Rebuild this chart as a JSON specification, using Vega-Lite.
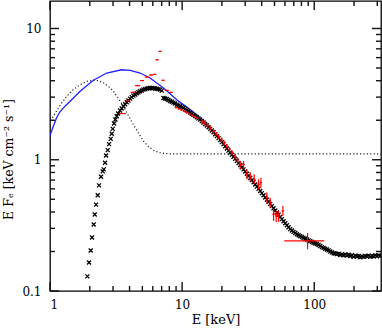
{
  "$schema": "https://vega.github.io/schema/vega-lite/v6.json",
  "width": 331,
  "height": 290,
  "autosize": {"type": "none"},
  "padding": {"left": 50, "top": 1, "right": 1, "bottom": 39},
  "config": {
    "view": {"stroke": "black", "strokeWidth": 1.3},
    "axis": {
      "domain": false, "grid": false, "ticks": false,
      "labelFont": "DejaVu Serif", "labelFontSize": 12, "labelColor": "black",
      "titleFont": "DejaVu Serif", "titleFontSize": 13, "titleFontWeight": "normal", "titleColor": "black"
    }
  },
  "datasets": {
    "xtb": [
      {"v":1,"a":0.1,"b":0.1171},{"v":2,"a":0.1,"b":0.1092},{"v":3,"a":0.1,"b":0.1092},{"v":4,"a":0.1,"b":0.1092},{"v":5,"a":0.1,"b":0.1092},{"v":6,"a":0.1,"b":0.1092},{"v":7,"a":0.1,"b":0.1092},{"v":8,"a":0.1,"b":0.1092},{"v":9,"a":0.1,"b":0.1092},
      {"v":10,"a":0.1,"b":0.1171},{"v":20,"a":0.1,"b":0.1092},{"v":30,"a":0.1,"b":0.1092},{"v":40,"a":0.1,"b":0.1092},{"v":50,"a":0.1,"b":0.1092},{"v":60,"a":0.1,"b":0.1092},{"v":70,"a":0.1,"b":0.1092},{"v":80,"a":0.1,"b":0.1092},{"v":90,"a":0.1,"b":0.1092},
      {"v":100,"a":0.1,"b":0.1171},{"v":200,"a":0.1,"b":0.1092},{"v":300,"a":0.1,"b":0.1092}
    ],
    "xtt": [
      {"v":1,"a":16.2,"b":13.83},{"v":2,"a":16.2,"b":14.84},{"v":3,"a":16.2,"b":14.84},{"v":4,"a":16.2,"b":14.84},{"v":5,"a":16.2,"b":14.84},{"v":6,"a":16.2,"b":14.84},{"v":7,"a":16.2,"b":14.84},{"v":8,"a":16.2,"b":14.84},{"v":9,"a":16.2,"b":14.84},
      {"v":10,"a":16.2,"b":13.83},{"v":20,"a":16.2,"b":14.84},{"v":30,"a":16.2,"b":14.84},{"v":40,"a":16.2,"b":14.84},{"v":50,"a":16.2,"b":14.84},{"v":60,"a":16.2,"b":14.84},{"v":70,"a":16.2,"b":14.84},{"v":80,"a":16.2,"b":14.84},{"v":90,"a":16.2,"b":14.84},
      {"v":100,"a":16.2,"b":13.83},{"v":200,"a":16.2,"b":14.84},{"v":300,"a":16.2,"b":14.84}
    ],
    "ytl": [
      {"v":0.1,"a":1,"b":1.17},{"v":0.2,"a":1,"b":1.091},{"v":0.3,"a":1,"b":1.091},{"v":0.4,"a":1,"b":1.091},{"v":0.5,"a":1,"b":1.091},{"v":0.6,"a":1,"b":1.091},{"v":0.7,"a":1,"b":1.091},{"v":0.8,"a":1,"b":1.091},{"v":0.9,"a":1,"b":1.091},
      {"v":1,"a":1,"b":1.17},{"v":2,"a":1,"b":1.091},{"v":3,"a":1,"b":1.091},{"v":4,"a":1,"b":1.091},{"v":5,"a":1,"b":1.091},{"v":6,"a":1,"b":1.091},{"v":7,"a":1,"b":1.091},{"v":8,"a":1,"b":1.091},{"v":9,"a":1,"b":1.091},
      {"v":10,"a":1,"b":1.17}
    ],
    "ytr": [
      {"v":0.1,"a":320,"b":273.5},{"v":0.2,"a":320,"b":293.3},{"v":0.3,"a":320,"b":293.3},{"v":0.4,"a":320,"b":293.3},{"v":0.5,"a":320,"b":293.3},{"v":0.6,"a":320,"b":293.3},{"v":0.7,"a":320,"b":293.3},{"v":0.8,"a":320,"b":293.3},{"v":0.9,"a":320,"b":293.3},
      {"v":1,"a":320,"b":273.5},{"v":2,"a":320,"b":293.3},{"v":3,"a":320,"b":293.3},{"v":4,"a":320,"b":293.3},{"v":5,"a":320,"b":293.3},{"v":6,"a":320,"b":293.3},{"v":7,"a":320,"b":293.3},{"v":8,"a":320,"b":293.3},{"v":9,"a":320,"b":293.3},
      {"v":10,"a":320,"b":273.5}
    ],
    "black": [
      {"E":1.918,"F":0.1292},{"E":1.975,"F":0.1651},{"E":2.033,"F":0.2036},{"E":2.081,"F":0.2557},{"E":2.142,"F":0.321},{"E":2.18,"F":0.3823},{"E":2.231,"F":0.4551},{"E":2.297,"F":0.536},{"E":2.351,"F":0.6383},{"E":2.434,"F":0.7429},{"E":2.506,"F":0.8155},{"E":2.55,"F":0.8445},{"E":2.61,"F":0.9489},{"E":2.656,"F":1.079},{"E":2.735,"F":1.184},{"E":2.799,"F":1.315},{"E":2.881,"F":1.443},{"E":2.933,"F":1.576},{"E":2.984,"F":1.719},{"E":3.054,"F":1.888},{"E":3.126,"F":2.025},{"E":3.2,"F":2.146},{"E":3.275,"F":2.248},
      {"E":3.391,"F":2.371},{"E":3.491,"F":2.454},{"E":3.594,"F":2.556},{"E":3.7,"F":2.648},{"E":3.809,"F":2.742},{"E":3.922,"F":2.831},{"E":4.037,"F":2.923},{"E":4.156,"F":3.001},{"E":4.279,"F":3.081},{"E":4.405,"F":3.144},{"E":4.535,"F":3.208},{"E":4.669,"F":3.265},{"E":4.806,"F":3.323},{"E":4.948,"F":3.372},{"E":5.094,"F":3.421},{"E":5.244,"F":3.451},{"E":5.399,"F":3.482},{"E":5.558,"F":3.502},{"E":5.722,"F":3.523},{"E":5.891,"F":3.52},{"E":6.065,"F":3.502},{"E":6.244,"F":3.49},{"E":6.428,"F":3.482},{"E":6.617,"F":3.451},{"E":6.813,"F":3.421},{"E":7.014,"F":3.363},
      {"E":7.221,"F":2.957},{"E":7.434,"F":2.932},{"E":7.653,"F":2.906},{"E":7.879,"F":2.856},{"E":8.111,"F":2.806},{"E":8.351,"F":2.766},{"E":8.597,"F":2.725},{"E":8.851,"F":2.679},{"E":9.112,"F":2.632},{"E":9.381,"F":2.594},{"E":9.656,"F":2.556},{"E":9.941,"F":2.519},{"E":10.23,"F":2.483},{"E":10.54,"F":2.433},{"E":10.85,"F":2.384},{"E":11.17,"F":2.336},{"E":11.5,"F":2.289},{"E":11.84,"F":2.242},{"E":12.19,"F":2.197},{"E":12.55,"F":2.152},{"E":12.92,"F":2.109},{"E":13.3,"F":2.067},{"E":13.69,"F":2.025},{"E":14.1,"F":1.972},{"E":14.51,"F":1.92},{"E":14.94,"F":1.871},{"E":15.38,"F":1.823},{"E":15.84,"F":1.771},{"E":16.3,"F":1.719},{"E":16.78,"F":1.671},{"E":17.28,"F":1.622},{"E":17.79,"F":1.566},{"E":18.31,"F":1.513},{"E":18.85,"F":1.461},{"E":19.41,"F":1.411},{"E":19.98,"F":1.362},{"E":20.57,"F":1.315},{"E":21.18,"F":1.266},{"E":21.8,"F":1.219},{"E":22.44,"F":1.174},{"E":23.1,"F":1.13},{"E":23.79,"F":1.091},{"E":24.49,"F":1.054},{"E":25.21,"F":1.015},{"E":25.95,"F":0.977},{"E":26.72,"F":0.943},{"E":27.51,"F":0.911},{"E":28.32,"F":0.877},{"E":29.15,"F":0.845},{"E":30.01,"F":0.813},{"E":30.9,"F":0.783},{"E":31.81,"F":0.754},{"E":32.75,"F":0.726},{"E":33.72,"F":0.699},{"E":34.71,"F":0.673},{"E":35.74,"F":0.648},{"E":36.79,"F":0.624},{"E":37.88,"F":0.6},{"E":38.99,"F":0.578},{"E":40.14,"F":0.557},{"E":41.32,"F":0.536},{"E":42.54,"F":0.516},{"E":43.79,"F":0.497},{"E":45.09,"F":0.478},{"E":46.42,"F":0.461},{"E":47.79,"F":0.443},{"E":49.2,"F":0.427},{"E":50.65,"F":0.411},{"E":52.14,"F":0.396},{"E":53.68,"F":0.381},{"E":55.26,"F":0.367},{"E":56.89,"F":0.353},{"E":58.57,"F":0.34},{"E":60.3,"F":0.328},{"E":62.07,"F":0.317},{"E":63.9,"F":0.306},{"E":65.79,"F":0.296},{"E":67.73,"F":0.289},{"E":69.72,"F":0.282},{"E":71.78,"F":0.277},{"E":73.9,"F":0.271},{"E":76.08,"F":0.266},{"E":78.32,"F":0.262},{"E":80.63,"F":0.258},{"E":83.01,"F":0.254},{"E":85.46,"F":0.25},{"E":87.97,"F":0.247},{"E":90.57,"F":0.243},{"E":93.26,"F":0.24},{"E":96.0,"F":0.236},{"E":98.84,"F":0.233},{"E":101.8,"F":0.23},{"E":104.8,"F":0.228},{"E":107.8,"F":0.224},{"E":111.0,"F":0.22},{"E":114.3,"F":0.216},{"E":117.7,"F":0.213},{"E":121.1,"F":0.21},{"E":124.7,"F":0.207},{"E":128.4,"F":0.204},{"E":132.2,"F":0.2},{"E":136.1,"F":0.197},{"E":140.1,"F":0.194},{"E":144.2,"F":0.193},{"E":148.5,"F":0.191},{"E":152.9,"F":0.192},{"E":157.4,"F":0.188},{"E":162.0,"F":0.19},{"E":166.8,"F":0.187},{"E":171.7,"F":0.19},{"E":176.8,"F":0.186},{"E":182.0,"F":0.189},{"E":187.4,"F":0.185},{"E":192.9,"F":0.187},{"E":198.6,"F":0.182},{"E":204.5,"F":0.186},{"E":210.5,"F":0.183},{"E":216.7,"F":0.185},{"E":223.1,"F":0.181},{"E":229.7,"F":0.184},{"E":236.4,"F":0.182},{"E":243.4,"F":0.185},{"E":250.6,"F":0.183},{"E":258.0,"F":0.186},{"E":265.6,"F":0.182},{"E":273.4,"F":0.185},{"E":281.5,"F":0.184},{"E":289.8,"F":0.187},{"E":298.4,"F":0.184},{"E":307.2,"F":0.187},{"E":316.2,"F":0.185}
    ],
    "blue": [
      {"E":1.0,"F":1.53},{"E":1.06,"F":1.8},{"E":1.12,"F":2.08},{"E":1.19,"F":2.32},{"E":1.3,"F":2.56},{"E":1.42,"F":2.79},{"E":1.69,"F":3.32},{"E":2.13,"F":4.03},{"E":2.69,"F":4.58},{"E":3.49,"F":4.85},{"E":4.04,"F":4.8},{"E":4.81,"F":4.58},{"E":5.72,"F":4.2},{"E":7.22,"F":3.52},{"E":9.12,"F":2.87},{"E":11.5,"F":2.41},{"E":13.7,"F":2.08},{"E":15.4,"F":1.88}
    ],
    "dotted": [
      {"E":1.0,"F":2.0},{"E":1.06,"F":2.15},{"E":1.19,"F":2.59},{"E":1.34,"F":3.05},{"E":1.5,"F":3.42},{"E":1.69,"F":3.73},{"E":1.9,"F":3.96},{"E":2.13,"F":4.03},{"E":2.32,"F":4.01},{"E":2.54,"F":3.85},{"E":2.77,"F":3.63},{"E":3.02,"F":3.32},{"E":3.29,"F":2.94},{"E":3.59,"F":2.56},{"E":3.92,"F":2.17},{"E":4.28,"F":1.85},{"E":4.67,"F":1.6},{"E":5.09,"F":1.39},{"E":5.56,"F":1.26},{"E":6.07,"F":1.18},{"E":6.62,"F":1.14},{"E":7.22,"F":1.12},{"E":8.0,"F":1.11},{"E":320,"F":1.11}
    ],
    "red": [
      {"E":3.53,"Emin":3.33,"Emax":3.76,"F":2.25,"Fmin":2.23,"Fmax":2.27},
      {"E":3.88,"Emin":3.74,"Emax":4.04,"F":2.82,"Fmin":2.79,"Fmax":2.85},
      {"E":4.23,"Emin":4.08,"Emax":4.4,"F":3.26,"Fmin":3.23,"Fmax":3.29},
      {"E":4.59,"Emin":4.4,"Emax":4.81,"F":3.67,"Fmin":3.63,"Fmax":3.71},
      {"E":4.98,"Emin":4.81,"Emax":5.15,"F":4.01,"Fmin":3.97,"Fmax":4.05},
      {"E":5.4,"Emin":5.21,"Emax":5.59,"F":4.27,"Fmin":4.22,"Fmax":4.32},
      {"E":5.82,"Emin":5.62,"Emax":6.02,"F":4.42,"Fmin":4.37,"Fmax":4.47},
      {"E":6.21,"Emin":6.02,"Emax":6.39,"F":4.47,"Fmin":4.42,"Fmax":4.52},
      {"E":6.47,"Emin":6.28,"Emax":6.66,"F":5.78,"Fmin":5.72,"Fmax":5.84},
      {"E":6.81,"Emin":6.62,"Emax":7.01,"F":6.69,"Fmin":6.62,"Fmax":6.76},
      {"E":7.18,"Emin":6.97,"Emax":7.39,"F":4.03,"Fmin":3.99,"Fmax":4.07},
      {"E":7.65,"Emin":7.39,"Emax":7.93,"F":3.38,"Fmin":3.34,"Fmax":3.42},
      {"E":8.21,"Emin":7.93,"Emax":8.5,"F":3.26,"Fmin":3.22,"Fmax":3.3},
      {"E":9.01,"Emin":8.8,"Emax":9.22,"F":2.5,"Fmin":2.46,"Fmax":2.54},
      {"E":9.43,"Emin":9.22,"Emax":9.65,"F":2.44,"Fmin":2.4,"Fmax":2.48},
      {"E":9.89,"Emin":9.65,"Emax":10.12,"F":2.4,"Fmin":2.36,"Fmax":2.44},
      {"E":10.36,"Emin":10.12,"Emax":10.6,"F":2.34,"Fmin":2.3,"Fmax":2.38},
      {"E":10.85,"Emin":10.6,"Emax":11.1,"F":2.29,"Fmin":2.25,"Fmax":2.33},
      {"E":11.36,"Emin":11.1,"Emax":11.63,"F":2.24,"Fmin":2.2,"Fmax":2.28},
      {"E":11.9,"Emin":11.63,"Emax":12.18,"F":2.18,"Fmin":2.14,"Fmax":2.22},
      {"E":12.47,"Emin":12.18,"Emax":12.76,"F":2.13,"Fmin":2.1,"Fmax":2.16},
      {"E":13.06,"Emin":12.76,"Emax":13.37,"F":2.08,"Fmin":2.05,"Fmax":2.11},
      {"E":14.18,"Emin":13.85,"Emax":14.51,"F":1.955,"Fmin":1.88,"Fmax":2.03},
      {"E":14.85,"Emin":14.51,"Emax":15.2,"F":1.91,"Fmin":1.84,"Fmax":1.98},
      {"E":15.55,"Emin":15.19,"Emax":15.92,"F":1.82,"Fmin":1.75,"Fmax":1.89},
      {"E":16.3,"Emin":15.93,"Emax":16.68,"F":1.75,"Fmin":1.68,"Fmax":1.82},
      {"E":17.28,"Emin":16.88,"Emax":17.69,"F":1.64,"Fmin":1.58,"Fmax":1.7},
      {"E":18.1,"Emin":17.68,"Emax":18.53,"F":1.567,"Fmin":1.51,"Fmax":1.63},
      {"E":18.96,"Emin":18.52,"Emax":19.41,"F":1.495,"Fmin":1.44,"Fmax":1.55},
      {"E":19.86,"Emin":19.4,"Emax":20.33,"F":1.419,"Fmin":1.36,"Fmax":1.48},
      {"E":20.81,"Emin":20.33,"Emax":21.3,"F":1.346,"Fmin":1.29,"Fmax":1.4},
      {"E":21.8,"Emin":21.3,"Emax":22.31,"F":1.27,"Fmin":1.22,"Fmax":1.32},
      {"E":22.84,"Emin":22.32,"Emax":23.38,"F":1.198,"Fmin":1.15,"Fmax":1.25},
      {"E":23.92,"Emin":23.37,"Emax":24.48,"F":1.13,"Fmin":1.085,"Fmax":1.175},
      {"E":25.2,"Emin":24.62,"Emax":25.79,"F":1.054,"Fmin":1.01,"Fmax":1.1},
      {"E":26.26,"Emin":25.66,"Emax":26.88,"F":0.994,"Fmin":0.95,"Fmax":1.04},
      {"E":27.51,"Emin":26.88,"Emax":28.16,"F":0.922,"Fmin":0.845,"Fmax":0.977},
      {"E":29.15,"Emin":28.48,"Emax":29.84,"F":0.922,"Fmin":0.854,"Fmax":0.977},
      {"E":30.9,"Emin":30.19,"Emax":31.63,"F":0.774,"Fmin":0.709,"Fmax":0.845},
      {"E":32.75,"Emin":32.0,"Emax":33.52,"F":0.751,"Fmin":0.689,"Fmax":0.806},
      {"E":35.12,"Emin":34.31,"Emax":35.95,"F":0.709,"Fmin":0.65,"Fmax":0.774},
      {"E":37.88,"Emin":37.01,"Emax":38.77,"F":0.65,"Fmin":0.595,"Fmax":0.709},
      {"E":39.45,"Emin":38.54,"Emax":40.38,"F":0.669,"Fmin":0.613,"Fmax":0.73},
      {"E":43.79,"Emin":42.78,"Emax":44.82,"F":0.514,"Fmin":0.466,"Fmax":0.562},
      {"E":46.42,"Emin":45.35,"Emax":47.51,"F":0.471,"Fmin":0.432,"Fmax":0.514},
      {"E":49.2,"Emin":48.07,"Emax":50.36,"F":0.384,"Fmin":0.342,"Fmax":0.42},
      {"E":51.53,"Emin":50.34,"Emax":52.74,"F":0.373,"Fmin":0.336,"Fmax":0.407},
      {"E":53.68,"Emin":52.44,"Emax":54.94,"F":0.373,"Fmin":0.336,"Fmax":0.407},
      {"E":57.88,"Emin":56.55,"Emax":59.24,"F":0.407,"Fmin":0.373,"Fmax":0.445},
      {"E":89.0,"Emin":59.3,"Emax":119,"F":0.241,"Fmin":0.208,"Fmax":0.276}
    ]
  },
  "resolve": {"axis": {"x": "independent", "y": "independent"}},
  "layer": [
    {
      "data": {"name": "dotted"},
      "mark": {"type": "line", "color": "#222222", "strokeWidth": 1.2, "strokeDash": [1.2, 2.2], "clip": true},
      "encoding": {
        "x": {"field": "E", "type": "quantitative", "scale": {"type": "log", "domain": [1, 320], "nice": false}, "axis": null},
        "y": {"field": "F", "type": "quantitative", "scale": {"type": "log", "domain": [0.1, 16.2], "nice": false}, "axis": null}
      }
    },
    {
      "data": {"name": "blue"},
      "mark": {"type": "line", "color": "#1f1fff", "strokeWidth": 1.3, "clip": true},
      "encoding": {
        "x": {"field": "E", "type": "quantitative", "axis": null},
        "y": {"field": "F", "type": "quantitative", "axis": null}
      }
    },
    {
      "data": {"name": "black"},
      "mark": {"type": "point", "shape": "M-1,-1L1,1M-1,1L1,-1", "filled": false, "stroke": "black", "strokeWidth": 1.3, "size": 16, "opacity": 1, "clip": true},
      "encoding": {
        "x": {"field": "E", "type": "quantitative",
          "axis": {"orient": "bottom", "title": "E [keV]", "values": [1,10,100],
            "labelExpr": "format(datum.value, '~g')", "ticks": false,
            "labelPadding": 8, "titlePadding": 3}},
        "y": {"field": "F", "type": "quantitative",
          "axis": {"orient": "left", "title": "E F\u2091 [keV cm\u207b\u00b2 s\u207b\u00b9]", "values": [0.1,1,10],
            "labelExpr": "format(datum.value, '~g')", "ticks": false,
            "labelPadding": 9, "titleFontSize": 12.5, "titleX": -35, "titleY": 158}}
      }
    },
    {
      "data": {"name": "red"},
      "mark": {"type": "rule", "color": "#ff0000", "strokeWidth": 1.2, "clip": true},
      "encoding": {
        "x": {"field": "Emin", "type": "quantitative", "axis": null},
        "x2": {"field": "Emax"},
        "y": {"field": "F", "type": "quantitative", "axis": null}
      }
    },
    {
      "data": {"name": "red"},
      "mark": {"type": "rule", "color": "#ff0000", "strokeWidth": 1.2, "clip": true},
      "encoding": {
        "x": {"field": "E", "type": "quantitative", "axis": null},
        "y": {"field": "Fmin", "type": "quantitative", "axis": null},
        "y2": {"field": "Fmax"}
      }
    },
    {
      "data": {"name": "xtb"},
      "mark": {"type": "rule", "color": "#111111", "strokeWidth": 1.4, "opacity": 1},
      "encoding": {
        "x": {"field": "v", "type": "quantitative", "axis": null},
        "y": {"field": "a", "type": "quantitative", "axis": null},
        "y2": {"field": "b"}
      }
    },
    {
      "data": {"name": "xtt"},
      "mark": {"type": "rule", "color": "#111111", "strokeWidth": 1.4, "opacity": 1},
      "encoding": {
        "x": {"field": "v", "type": "quantitative", "axis": null},
        "y": {"field": "a", "type": "quantitative", "axis": null},
        "y2": {"field": "b"}
      }
    },
    {
      "data": {"name": "ytl"},
      "mark": {"type": "rule", "color": "#111111", "strokeWidth": 1.4, "opacity": 1},
      "encoding": {
        "y": {"field": "v", "type": "quantitative", "axis": null},
        "x": {"field": "a", "type": "quantitative", "axis": null},
        "x2": {"field": "b"}
      }
    },
    {
      "data": {"name": "ytr"},
      "mark": {"type": "rule", "color": "#111111", "strokeWidth": 1.4, "opacity": 1},
      "encoding": {
        "y": {"field": "v", "type": "quantitative", "axis": null},
        "x": {"field": "a", "type": "quantitative", "axis": null},
        "x2": {"field": "b"}
      }
    }
  ]
}
